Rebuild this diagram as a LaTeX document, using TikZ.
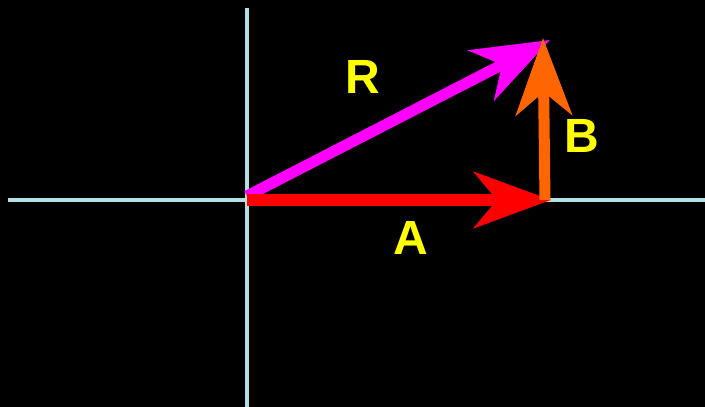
\documentclass[tikz,border=0pt]{standalone}
\usepackage{fontspec}
\setsansfont{Liberation Sans}
\usepackage{tikz}
\usetikzlibrary{arrows.meta, positioning, calc}
\tikzset{every node/.style={font=\sffamily}}
\usepackage{xcolor}
\definecolor{axisblue}{RGB}{176,224,230}
\definecolor{vecred}{RGB}{255,0,0}
\definecolor{vecorange}{RGB}{255,102,0}
\definecolor{vecmagenta}{RGB}{255,0,255}
\definecolor{labelyellow}{RGB}{255,255,0}

\begin{document}
\begin{tikzpicture}[x=1pt, y=-1pt,
    axisline/.style={draw=axisblue, line width=4pt},
    vecarrow/.style={line width=11pt, -{Stealth[length=77pt, width=56pt, inset=23pt]}},
    veclabel/.style={text=labelyellow, font=\sffamily\bfseries\fontsize{48}{48}\selectfont, inner sep=0pt}]
    \fill[black] (0,0) rectangle (705,407);
    \useasboundingbox (0,0) rectangle (705,407);
    % axes
    \coordinate (xl) at (8,200);
    \coordinate (xr) at (705,200);
    \coordinate (yt) at (247,8);
    \coordinate (yb) at (247,407);
    \draw[axisline] (xl) -- (xr);
    \draw[axisline] (yt) -- (yb);
    % vectors
    \coordinate (O) at (247,200);
    \coordinate (Rstart) at (247,196);
    \coordinate (Aend) at (551,200);
    \coordinate (Bstart) at (545,200);
    \coordinate (Bend) at (543,38);
    \coordinate (Rend) at (550,40);
    \draw[vecarrow, vecmagenta] (Rstart) -- (Rend);
    \draw[vecarrow, vecred, line width=12pt] (O) -- (Aend);
    \draw[vecarrow, vecorange] (Bstart) -- (Bend);
    % labels
    \node[veclabel] (lR) at (363,77) {R};
    \node[veclabel] (lB) at (582,136) {B};
    \node[veclabel] (lA) at (411,238) {A};
  \end{tikzpicture}
\end{document}
